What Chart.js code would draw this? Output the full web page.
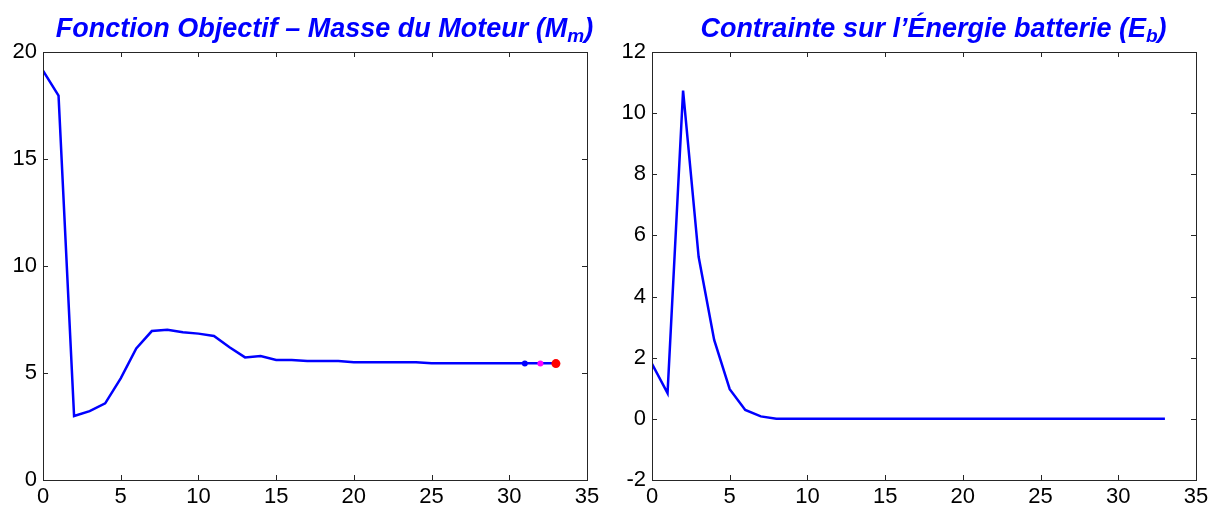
<!DOCTYPE html>
<html>
<head>
<meta charset="utf-8">
<script src="https://cdn.jsdelivr.net/npm/chart.js"></script>
<style>
    body { margin: 0; background: #fff; }
    #wrap { position: relative; width: 1218px; height: 509px; }
    .pane { position: absolute; top: 0; width: 609px; height: 509px; }
    .titre {
        position: absolute; top: 13px; left: 20px; width: 609px;
        text-align: center; color: #0000ff;
        font: italic bold 27px "Liberation Sans", Arial, sans-serif;
        line-height: 30px; white-space: nowrap;
    }
    .titre sub { font-size: 19px; vertical-align: -5px; line-height: 0; }
</style>
</head>
<body>
<div id="wrap">
    <div class="pane" style="left:0">
        <canvas id="chartMasse" width="609" height="509"></canvas>
        <div class="titre">Fonction Objectif – Masse du Moteur (M<sub>m</sub>)</div>
    </div>
    <div class="pane" style="left:609px">
        <canvas id="chartEnergie" width="609" height="509"></canvas>
        <div class="titre">Contrainte sur l’Énergie batterie (E<sub>b</sub>)</div>
    </div>
</div>
<script>
    const iterations = [0, 1, 2, 3, 4, 5, 6, 7, 8, 9, 10, 11, 12, 13, 14, 15, 16,
        17, 18, 19, 20, 21, 22, 23, 24, 25, 26, 27, 28, 29, 30, 31, 32, 33]
    const masseMoteur = [19.13, 17.96, 2.99, 3.22, 3.58, 4.75, 6.15, 6.96, 7.02, 6.90,
        6.84, 6.73, 6.20, 5.73, 5.79, 5.61, 5.61, 5.56, 5.56, 5.56, 5.50, 5.50, 5.50,
        5.50, 5.50, 5.45, 5.45, 5.45, 5.45, 5.45, 5.45, 5.45, 5.45, 5.45]
    const contrainteEnergie = [1.80, 0.84, 10.74, 5.30, 2.58, 0.97, 0.29, 0.08, 0, 0,
        0, 0, 0, 0, 0, 0, 0, 0, 0, 0, 0, 0, 0, 0, 0, 0, 0, 0, 0, 0, 0, 0, 0, 0]
    // derniers points marqués (bleu, magenta, rouge)
    const marqueursIter = [31, 32, 33]
    const marqueursMasse = [5.44, 5.44, 5.44]

    const xTicks = [0, 5, 10, 15, 20, 25, 30, 35]
    const yTicksMasse = [0, 5, 10, 15, 20]
    const yTicksEnergie = [-2, 0, 2, 4, 6, 8, 10, 12]

    const police = '"Liberation Sans", Arial, sans-serif'

    // cadre + graduations vers l'intérieur, façon matlab
    const cadreMatlab = {
        id: 'cadreMatlab',
        afterDatasetsDraw(chart) {
            const {ctx, chartArea: a, scales} = chart
            const len = 5
            ctx.save()
            ctx.strokeStyle = '#262626'
            ctx.lineWidth = 1
            ctx.beginPath()
            scales.x.ticks.forEach(t => {
                const px = Math.round(scales.x.getPixelForValue(t.value)) + 0.5
                ctx.moveTo(px, a.bottom); ctx.lineTo(px, a.bottom - len)
                ctx.moveTo(px, a.top); ctx.lineTo(px, a.top + len)
            })
            scales.y.ticks.forEach(t => {
                const py = Math.round(scales.y.getPixelForValue(t.value)) + 0.5
                ctx.moveTo(a.left, py); ctx.lineTo(a.left + len, py)
                ctx.moveTo(a.right, py); ctx.lineTo(a.right - len, py)
            })
            ctx.stroke()
            ctx.strokeRect(Math.round(a.left) + 0.5, Math.round(a.top) + 0.5,
                Math.round(a.right - a.left), Math.round(a.bottom - a.top))
            ctx.restore()
        }
    }

    function options(yMin, yMax, yTicks) {
        return {
            responsive: false,
            animation: false,
            layout: {padding: {top: 52, right: 22, left: 0, bottom: 0}},
            plugins: {legend: {display: false}, tooltip: {enabled: false}},
            scales: {
                x: {
                    type: 'linear', min: 0, max: 35,
                    grid: {display: false, drawTicks: false}, border: {display: false},
                    afterBuildTicks: s => { s.ticks = xTicks.map(v => ({value: v})) },
                    afterFit: s => { s.height = 29 },
                    ticks: {color: '#000', padding: 4, font: {family: police, size: 22}}
                },
                y: {
                    type: 'linear', min: yMin, max: yMax,
                    grid: {display: false, drawTicks: false}, border: {display: false},
                    afterBuildTicks: s => { s.ticks = yTicks.map(v => ({value: v})) },
                    afterFit: s => { s.width = 43 },
                    ticks: {color: '#000', padding: 6, font: {family: police, size: 22}}
                }
            }
        }
    }

    const points = (xs, ys) => xs.map((x, i) => ({x: x, y: ys[i]}))

    new Chart(document.getElementById('chartMasse'), {
        type: 'line',
        data: {
            datasets: [{
                data: points(iterations, masseMoteur), order: 1,
                borderColor: '#0000ff', borderWidth: 2.5, pointRadius: 0, tension: 0
            }, {
                data: points([marqueursIter[0]], [marqueursMasse[0]]), order: 0,
                showLine: false, pointRadius: 3, backgroundColor: '#0000ff', borderWidth: 0
            }, {
                data: points([marqueursIter[1]], [marqueursMasse[1]]), order: 0,
                showLine: false, pointRadius: 3, backgroundColor: '#ff00ff', borderWidth: 0
            }, {
                data: points([marqueursIter[2]], [marqueursMasse[2]]), order: 0,
                showLine: false, pointRadius: 4.5, backgroundColor: '#ff0000', borderWidth: 0
            }]
        },
        options: options(0, 20, yTicksMasse),
        plugins: [cadreMatlab]
    })

    new Chart(document.getElementById('chartEnergie'), {
        type: 'line',
        data: {
            datasets: [{
                data: points(iterations, contrainteEnergie),
                borderColor: '#0000ff', borderWidth: 2.5, pointRadius: 0, tension: 0
            }]
        },
        options: options(-2, 12, yTicksEnergie),
        plugins: [cadreMatlab]
    })
</script>
</body>
</html>
